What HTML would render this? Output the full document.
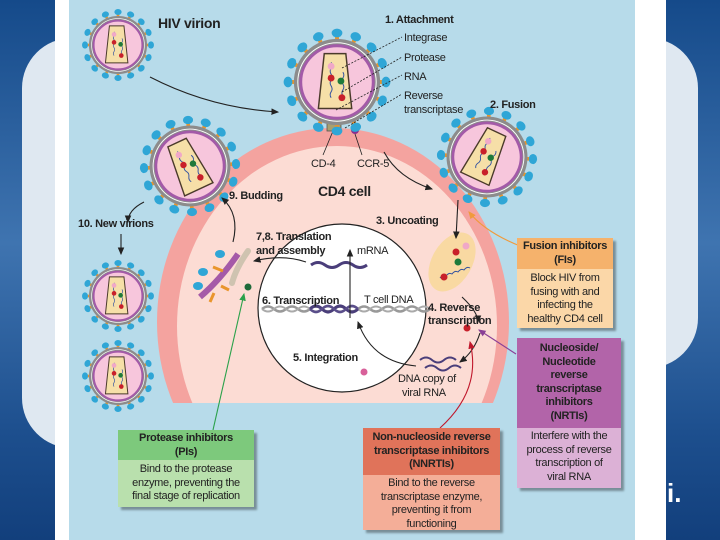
<!DOCTYPE html>
<html><head><meta charset="utf-8"><style>
body{margin:0;width:720px;height:540px;overflow:hidden;position:relative;background:linear-gradient(#154a8a,#3f74b0 45%,#1d4f8e 80%,#123f7c);font-family:"Liberation Sans",sans-serif}
.pan{position:absolute;background:#dfe8f1}
.box{position:absolute;text-align:center;color:#222;font-size:11px;letter-spacing:-0.3px;line-height:13.5px;box-shadow:3px 3px 2px rgba(0,0,0,.35)}
.box .h{font-weight:bold}
svg text{font-family:"Liberation Sans",sans-serif;fill:#222;letter-spacing:-0.3px}
</style></head><body>
<div class="pan" style="left:22px;top:38px;width:60px;height:410px;border-radius:50px 0 0 50px"></div>
<div class="pan" style="left:640px;top:38px;width:58px;height:330px;border-radius:0 50px 50px 0"></div>
<div style="position:absolute;left:55px;top:0;width:611px;height:540px;background:#fff"></div>
<div style="position:absolute;left:69px;top:0;width:566px;height:540px;background:#b7dbea"></div>
<div style="position:absolute;left:667px;top:478px;color:#fff;font:bold 26px 'Liberation Sans',sans-serif">i.</div>
<svg style="position:absolute;left:0;top:0" width="720" height="540" viewBox="0 0 720 540">
<defs>
<clipPath id="cc"><rect x="0" y="0" width="720" height="403"/></clipPath>
<marker id="ar" markerWidth="8" markerHeight="8" refX="6" refY="4" orient="auto"><path d="M0,1 L7,4 L0,7 Z" fill="#222"/></marker>
<marker id="ag" markerWidth="8" markerHeight="8" refX="6" refY="4" orient="auto"><path d="M0,1 L7,4 L0,7 Z" fill="#2aa14a"/></marker>
<marker id="ao" markerWidth="8" markerHeight="8" refX="6" refY="4" orient="auto"><path d="M0,1 L7,4 L0,7 Z" fill="#f09a3c"/></marker>
<marker id="ap" markerWidth="8" markerHeight="8" refX="6" refY="4" orient="auto"><path d="M0,1 L7,4 L0,7 Z" fill="#8a3f96"/></marker>
<marker id="aR" markerWidth="8" markerHeight="8" refX="6" refY="4" orient="auto"><path d="M0,1 L7,4 L0,7 Z" fill="#c0182c"/></marker>
<g id="sp"><rect x="-2" y="-48" width="4" height="9" fill="#e9952c"/><ellipse cx="0" cy="-50" rx="5.5" ry="4.5" fill="#2fa6d6"/></g>
<g id="v">
<use href="#sp"/><use href="#sp" transform="rotate(22.5)"/><use href="#sp" transform="rotate(45)"/><use href="#sp" transform="rotate(67.5)"/>
<use href="#sp" transform="rotate(90)"/><use href="#sp" transform="rotate(112.5)"/><use href="#sp" transform="rotate(135)"/><use href="#sp" transform="rotate(157.5)"/>
<use href="#sp" transform="rotate(180)"/><use href="#sp" transform="rotate(202.5)"/><use href="#sp" transform="rotate(225)"/><use href="#sp" transform="rotate(247.5)"/>
<use href="#sp" transform="rotate(270)"/><use href="#sp" transform="rotate(292.5)"/><use href="#sp" transform="rotate(315)"/><use href="#sp" transform="rotate(337.5)"/>
<circle r="41" fill="#f7c6dc" stroke="#8c8c8c" stroke-width="6"/>
<circle r="37" fill="none" stroke="#a35aa8" stroke-width="3"/>
<circle r="40" fill="none" stroke="#fff" stroke-width="1"/>
<polygon points="-13,-29 9,-29 15,27 -19,27" fill="#f6dfa8" stroke="#4a3a2a" stroke-width="1.5"/>
<path d="M-6,-20 q2,3 0,6 q-2,3 0,6 q2,3 0,6 q-2,3 0,6 q2,3 0,6 q-2,3 0,6" stroke="#3050a0" fill="none"/>
<path d="M6,-10 q2,3 0,6 q-2,3 0,6 q2,3 0,6 q-2,3 0,6" stroke="#3050a0" fill="none"/>
<circle cx="-6" cy="-16" r="3.5" fill="#f0a8c8"/><circle cx="-6" cy="-4" r="3.5" fill="#c8202a"/>
<circle cx="4" cy="-1" r="3.5" fill="#1e7a3a"/><circle cx="5" cy="16" r="3.5" fill="#c8202a"/>
</g>
</defs>
<g clip-path="url(#cc)">
<ellipse cx="333" cy="322" rx="176" ry="194" fill="#f4a39f"/>
<ellipse cx="337" cy="326" rx="160" ry="180" fill="#fcdcd4"/>
</g>
<circle cx="342" cy="308" r="84" fill="#fff" stroke="#222" stroke-width="1.2"/>
<rect x="327" y="114" width="14" height="17" fill="#a9a06e" stroke="#555" stroke-width=".8"/>
<circle cx="355" cy="130" r="4" fill="#8a2f8c"/>
<path d="M333,131 L323,155 M355,134 L362,155" stroke="#222" stroke-width=".8"/>
<use href="#v" transform="translate(118,45) scale(0.66)"/>
<use href="#v" transform="translate(337,82) scale(0.98)"/>
<use href="#v" transform="translate(487,157) rotate(25) scale(0.92)"/>
<use href="#v" transform="translate(190,166) rotate(-25) scale(0.92)"/>
<use href="#v" transform="translate(118,296) scale(0.66)"/>
<use href="#v" transform="translate(118,376) scale(0.66)"/>
<ellipse cx="452" cy="262" rx="20" ry="32" transform="rotate(30 452 262)" fill="#f9d9a2"/>
<path d="M440,278 q3,-4 6,-2 q3,-4 6,-2 q3,-4 6,-2 q3,-4 6,-2 q3,-4 6,-2" stroke="#3050a0" fill="none"/>
<circle cx="466" cy="246" r="3.5" fill="#f0a8c8"/><circle cx="456" cy="252" r="3.5" fill="#c8202a"/><circle cx="458" cy="262" r="3.5" fill="#1e7a3a"/><circle cx="444" cy="277" r="3.5" fill="#c8202a"/>
<path d="M262,309 q6,-5 12,0 q6,5 12,0 q6,-5 12,0 q6,5 12,0 q6,-5 12,0 q6,5 12,0 q6,-5 12,0 q6,5 12,0 q6,-5 12,0 q6,5 12,0 q6,-5 12,0 q6,5 12,0 q6,-5 12,0 q6,5 12,0" stroke="#999" stroke-width="2.5" fill="none"/>
<path d="M262,309 q6,5 12,0 q6,-5 12,0 q6,5 12,0 q6,-5 12,0 q6,5 12,0 q6,-5 12,0 q6,5 12,0 q6,-5 12,0 q6,5 12,0 q6,-5 12,0 q6,5 12,0 q6,-5 12,0 q6,5 12,0 q6,-5 12,0" stroke="#aaa" stroke-width="2" fill="none"/>
<path d="M310,309 q6,-6 12,0 q6,6 12,0 q6,-6 12,0 q6,6 12,0" stroke="#4a3e7a" stroke-width="3" fill="none"/>
<path d="M310,309 q6,6 12,0 q6,-6 12,0 q6,6 12,0 q6,-6 12,0" stroke="#5a4e8a" stroke-width="2.5" fill="none"/>
<path d="M311,265 q7,-5 14,0 q7,5 14,0 q7,-5 14,0 q7,5 14,0" stroke="#4a3e7a" stroke-width="3" fill="none"/>
<path d="M420,360 q6,-5 12,0 q6,5 12,0 q6,-5 12,0 M425,368 q6,-5 12,0 q6,5 12,0 q6,-5 12,0" stroke="#4a3e7a" stroke-width="2" fill="none"/>
<path d="M200,297 Q220,280 238,254" stroke="#a55aa8" stroke-width="6" fill="none"/>
<path d="M232,283 Q236,268 248,251" stroke="#cfc3b0" stroke-width="6" fill="none" stroke-linecap="round"/>
<ellipse cx="203" cy="272" rx="5" ry="4" fill="#2fa6d6"/><ellipse cx="220" cy="254" rx="5" ry="4" fill="#2fa6d6"/><ellipse cx="198" cy="286" rx="5" ry="4" fill="#2fa6d6"/>
<path d="M213,267 l10,4 M221,286 l8,4 M210,302 l4,-9" stroke="#e9952c" stroke-width="3"/>
<circle cx="248" cy="287" r="3.5" fill="#1e6a3a"/>
<circle cx="364" cy="372" r="3.5" fill="#d8609a"/>
<circle cx="467" cy="328" r="3.5" fill="#c8202a"/>
<g fill="none" stroke="#222" stroke-width="1.1" marker-end="url(#ar)">
<path d="M150,77 Q210,108 278,112"/>
<path d="M384,152 Q398,178 432,189"/>
<path d="M458,200 L456,238"/>
<path d="M462,297 Q478,312 478,322"/>
<path d="M480,333 Q474,352 460,362"/>
<path d="M416,366 Q372,362 358,322"/>
<path d="M350,318 L350,250"/>
<path d="M306,262 Q282,254 254,261"/>
<path d="M233,242 Q240,214 222,198"/>
<path d="M144,202 Q128,210 128,222"/>
<path d="M121,234 L121,254"/>
</g>
<path d="M213,430 L244,294" stroke="#2aa14a" stroke-width="1.1" fill="none" marker-end="url(#ag)"/>
<path d="M520,246 Q485,232 469,212" stroke="#f09a3c" stroke-width="1.1" fill="none" marker-end="url(#ao)"/>
<path d="M516,354 L479,330" stroke="#8a3f96" stroke-width="1.1" fill="none" marker-end="url(#ap)"/>
<path d="M440,428 Q482,390 470,342" stroke="#c0182c" stroke-width="1.1" fill="none" marker-end="url(#aR)"/>
<g stroke="#222" stroke-width=".8" stroke-dasharray="2,1.5" fill="none">
<path d="M342,68 L402,37 M342,92 L402,57 M336,110 L402,75 M345,128 L402,94"/>
</g>
<g font-size="11">
<text x="158" y="28" font-size="14" font-weight="bold">HIV virion</text>
<text x="385" y="23" font-weight="bold">1. Attachment</text>
<text x="404" y="41">Integrase</text>
<text x="404" y="61">Protease</text>
<text x="404" y="80">RNA</text>
<text x="404" y="99">Reverse</text>
<text x="404" y="113">transcriptase</text>
<text x="490" y="108" font-weight="bold">2. Fusion</text>
<text x="311" y="167">CD-4</text>
<text x="357" y="167">CCR-5</text>
<text x="318" y="196" font-size="14" font-weight="bold">CD4 cell</text>
<text x="229" y="199" font-weight="bold">9. Budding</text>
<text x="78" y="227" font-weight="bold">10. New virions</text>
<text x="376" y="224" font-weight="bold">3. Uncoating</text>
<text x="256" y="240" font-weight="bold">7,8. Translation</text>
<text x="256" y="254" font-weight="bold">and assembly</text>
<text x="357" y="254">mRNA</text>
<text x="262" y="304" font-weight="bold">6. Transcription</text>
<text x="364" y="303">T cell DNA</text>
<text x="428" y="311" font-weight="bold">4. Reverse</text>
<text x="428" y="324" font-weight="bold">transcription</text>
<text x="293" y="361" font-weight="bold">5. Integration</text>
<text x="398" y="382">DNA copy of</text>
<text x="402" y="396">viral RNA</text>
</g>
</svg>
<div class="box" style="left:517px;top:238px;width:96px;height:90px;background:#fbd7a8">
<div class="h" style="background:#f5b26c;height:29px;padding-top:2px">Fusion inhibitors<br>(FIs)</div>
<div style="padding-top:3px">Block HIV from<br>fusing with and<br>infecting the<br>healthy CD4 cell</div></div>
<div class="box" style="left:517px;top:338px;width:104px;height:150px;background:#dcb1d6">
<div class="h" style="background:#b264a9;height:86px;padding-top:4px">Nucleoside/<br>Nucleotide<br>reverse<br>transcriptase<br>inhibitors<br>(NRTIs)</div>
<div style="padding-top:2px">Interfere with the<br>process of reverse<br>transcription of<br>viral RNA</div></div>
<div class="box" style="left:363px;top:428px;width:137px;height:102px;background:#f4ae98">
<div class="h" style="background:#e0735a;height:44px;padding-top:3px">Non-nucleoside reverse<br>transcriptase inhibitors<br>(NNRTIs)</div>
<div style="padding-top:2px">Bind to the reverse<br>transcriptase enzyme,<br>preventing it from<br>functioning</div></div>
<div class="box" style="left:118px;top:430px;width:136px;height:77px;background:#b9e0ad">
<div class="h" style="background:#7dc97c;height:28px;padding-top:2px">Protease inhibitors<br>(PIs)</div>
<div style="padding-top:3px">Bind to the protease<br>enzyme, preventing the<br>final stage of replication</div></div>
</body></html>
